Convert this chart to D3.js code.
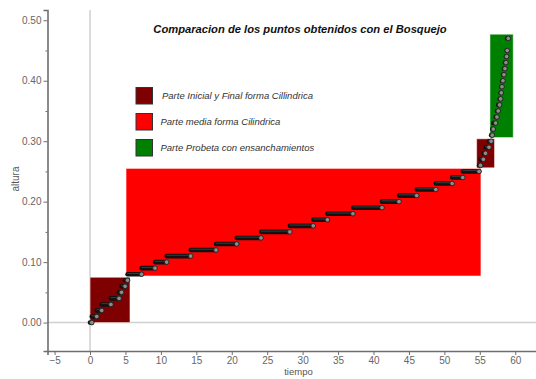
<!DOCTYPE html>
<html>
<head>
<meta charset="utf-8">
<script src="https://cdn.jsdelivr.net/npm/d3@7"></script>
<style>
  html, body { margin: 0; padding: 0; background: #fff; }
  svg { display: block; }
  text { font-family: "Liberation Sans", Arial, sans-serif; }
</style>
</head>
<body>
<svg id="chart" width="536" height="379"></svg>
<script>
// Measured points: height reached (altura) and the time it was reached (tiempo)
const altura = [0.00, 0.01, 0.02, 0.03, 0.04, 0.05, 0.06, 0.07, 0.08, 0.09,
                0.10, 0.11, 0.12, 0.13, 0.14, 0.15, 0.16, 0.17, 0.18, 0.19,
                0.20, 0.21, 0.22, 0.23, 0.24, 0.25, 0.26, 0.27, 0.28, 0.29,
                0.30, 0.31, 0.32, 0.33, 0.34, 0.35, 0.36, 0.37, 0.38, 0.39,
                0.40, 0.41, 0.42, 0.43, 0.44, 0.45, 0.47];
const tiempo = [0.25, 0.95, 1.65, 2.95, 4.1, 4.45, 4.95, 5.3, 7.29, 9.17,
                10.82, 14.21, 17.78, 20.7, 24.13, 28.2, 31.5, 33.5, 37.1, 41.2,
                43.6, 46.1, 48.8, 51.1, 52.6, 54.9, 55.1, 55.5, 55.8, 56.3,
                56.6, 56.76, 56.9, 57.24, 57.42, 57.6, 57.8, 57.94, 58.03, 58.13,
                58.27, 58.41, 58.55, 58.69, 58.79, 58.87, 59.02];

// Sketch regions (Bosquejo): time span and height span of each part
const zonaT0 = [0, 5.08, 54.55, 56.43];
const zonaT1 = [5.64, 55.16, 57.08, 59.72];
const zonaH0 = [0, 0.077, 0.256, 0.306];
const zonaH1 = [0.075, 0.255, 0.304, 0.477];
const zonaColor = ["#7f0000", "#ff0000", "#7f0000", "#008000"];

// Legend entries
const leyendaTexto = ["Parte Inicial y Final forma Cillindrica", "Parte media forma Cilindrica",
                      "Parte Probeta con ensanchamientos"];
const leyendaColor = ["#7f0000", "#ff0000", "#008000"];

const xTicks = [-5, 0, 5, 10, 15, 20, 25, 30, 35, 40, 45, 50, 55, 60];
const yTicks = [0, 0.1, 0.2, 0.3, 0.4, 0.5];
const yMinor = [0.05, 0.15, 0.25, 0.35, 0.45];

const svg = d3.select("#chart");
const x = d3.scaleLinear().domain([-6, 63]).range([47.5, 536.5]);
const y = d3.scaleLinear().domain([-0.047, 0.517]).range([351, 10]);

// reference lines through the origin
svg.append("line")
  .attr("x1", x(0)).attr("x2", x(0)).attr("y1", y.range()[1]).attr("y2", y.range()[0])
  .attr("stroke", "#d0d0d0").attr("stroke-width", 1.5);
svg.append("line")
  .attr("x1", x.range()[0]).attr("x2", x.range()[1]).attr("y1", y(0)).attr("y2", y(0))
  .attr("stroke", "#d0d0d0").attr("stroke-width", 1.5);

// sketch regions
svg.append("g").selectAll("rect")
  .data(d3.range(zonaT0.length))
  .join("rect")
  .attr("x", i => x(zonaT0[i]))
  .attr("y", i => y(zonaH1[i]))
  .attr("width", i => x(zonaT1[i]) - x(zonaT0[i]))
  .attr("height", i => y(zonaH0[i]) - y(zonaH1[i]))
  .attr("fill", i => zonaColor[i])
  .attr("stroke", "rgba(255,255,255,0.55)")
  .attr("stroke-width", 1);

// measured steps: horizontal bar from the previous time to the current one
const pts = d3.range(altura.length);
const steps = svg.append("g");
steps.selectAll("line.bar")
  .data(pts)
  .join("line")
  .attr("class", "bar")
  .attr("x1", i => x(i === 0 ? 0 : tiempo[i - 1]))
  .attr("x2", i => x(tiempo[i]))
  .attr("y1", i => y(altura[i]))
  .attr("y2", i => y(altura[i]))
  .attr("stroke", "#111")
  .attr("stroke-width", 4.6)
  .attr("stroke-linecap", "round");
steps.selectAll("line.shine")
  .data(pts)
  .join("line")
  .attr("class", "shine")
  .attr("x1", i => x(i === 0 ? 0 : tiempo[i - 1]))
  .attr("x2", i => x(tiempo[i]))
  .attr("y1", i => y(altura[i]) - 0.8)
  .attr("y2", i => y(altura[i]) - 0.8)
  .attr("stroke", "#3c3c3c")
  .attr("stroke-width", 1)
  .attr("stroke-linecap", "round");
steps.selectAll("circle")
  .data(pts)
  .join("circle")
  .attr("cx", i => x(tiempo[i]))
  .attr("cy", i => y(altura[i]))
  .attr("r", 2.3)
  .attr("fill", "#8c8c8c")
  .attr("stroke", "#222")
  .attr("stroke-width", 0.9);

// axes
const xAxis = d3.axisBottom(x).tickValues(xTicks).tickSize(4).tickPadding(2)
  .tickFormat(d3.format("d"));
const gx = svg.append("g").attr("transform", `translate(0,${y.range()[0]})`).call(xAxis);
const yAxis = d3.axisLeft(y).tickValues(yTicks).tickSize(4).tickPadding(2)
  .tickFormat(d3.format(".2f"));
const gy = svg.append("g").attr("transform", `translate(${x.range()[0]},0)`).call(yAxis);
const gyMinor = svg.append("g").attr("transform", `translate(${x.range()[0]},0)`)
  .call(d3.axisLeft(y).tickValues(yMinor).tickSize(2).tickFormat(""));
gyMinor.select(".domain").remove();

[gx, gy, gyMinor].forEach(g => {
  g.select(".domain").attr("stroke", "#6e6e6e").attr("stroke-width", 1.6);
  g.selectAll(".tick line").attr("stroke", "#6e6e6e").attr("stroke-width", 1);
  g.selectAll(".tick text").attr("fill", "#666").attr("font-size", 10)
    .attr("font-family", "'Liberation Sans', Arial, sans-serif");
});

// axis titles
svg.append("text")
  .attr("x", 298.5).attr("y", 374.5)
  .attr("text-anchor", "middle").attr("font-size", 9.5).attr("fill", "#555")
  .text("tiempo");
svg.append("text")
  .attr("transform", "translate(18.5,179) rotate(-90)")
  .attr("text-anchor", "middle").attr("font-size", 10).attr("fill", "#555")
  .text("altura");

// chart title
svg.append("text")
  .attr("x", 300).attr("y", 33)
  .attr("text-anchor", "middle")
  .attr("font-size", 11.2).attr("font-weight", "bold").attr("font-style", "italic")
  .attr("fill", "#111")
  .text("Comparacion de los puntos obtenidos con el Bosquejo");

// legend
const leg = svg.append("g").attr("transform", "translate(136,87.5)");
const item = leg.selectAll("g")
  .data(d3.range(leyendaTexto.length))
  .join("g")
  .attr("transform", i => `translate(0,${i * 26})`);
item.append("rect")
  .attr("width", 16.5).attr("height", 16.5)
  .attr("fill", i => leyendaColor[i])
  .attr("stroke", "#333").attr("stroke-width", 1);
item.append("text")
  .attr("x", i => i === 0 ? 26 : 24.5).attr("y", 11.5)
  .attr("font-size", 9.5).attr("font-style", "italic").attr("fill", "#333")
  .text(i => leyendaTexto[i]);
</script>
</body>
</html>
